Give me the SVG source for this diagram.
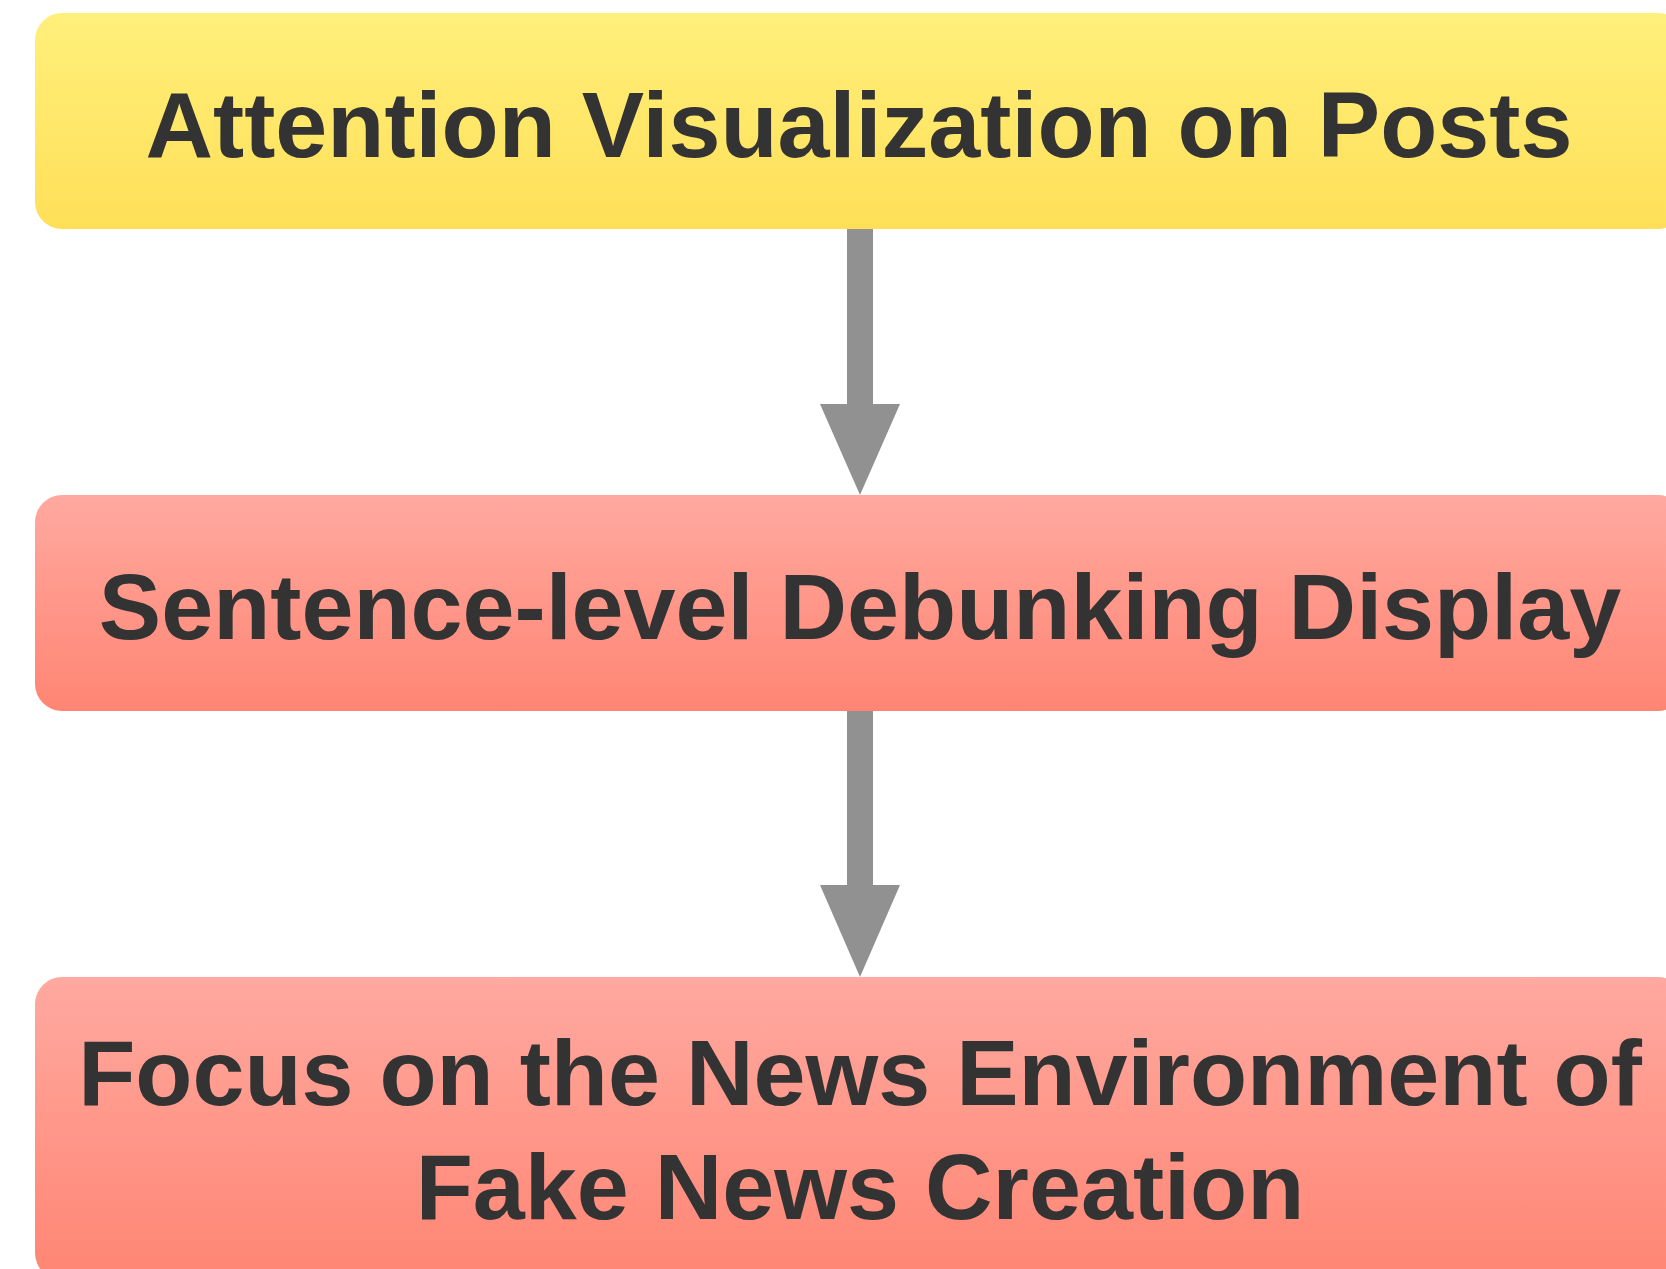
<svg xmlns="http://www.w3.org/2000/svg" width="1666" height="1269" viewBox="0 0 1666 1269">
  <defs>
    <linearGradient id="gYellow" x1="0" y1="0" x2="0" y2="1">
      <stop offset="0" stop-color="#FFF07B"/>
      <stop offset="1" stop-color="#FFDF58"/>
    </linearGradient>
    <linearGradient id="gRed" x1="0" y1="0" x2="0" y2="1">
      <stop offset="0" stop-color="#FFA9A0"/>
      <stop offset="1" stop-color="#FF8573"/>
    </linearGradient>
    <style>
      .lbl { font-family: "Liberation Sans", Arial, sans-serif; font-weight: bold; font-size: 93.5px; fill: #333333; text-anchor: middle; }
      .arrow { fill: #919191; }
    </style>
  </defs>
  <rect width="1666" height="1269" fill="#FFFFFF"/>
  <g id="node-attention">
    <rect x="35" y="13" width="1650" height="216" rx="27" ry="27" fill="url(#gYellow)"/>
    <text class="lbl" x="859" y="157">Attention Visualization on Posts</text>
  </g>
  <g id="node-sentence">
    <rect x="35" y="495" width="1650" height="216" rx="27" ry="27" fill="url(#gRed)"/>
    <text class="lbl" x="860" y="639">Sentence-level Debunking Display</text>
  </g>
  <g id="node-focus">
    <rect x="35" y="977" width="1650" height="303" rx="27" ry="27" fill="url(#gRed)"/>
    <text class="lbl" x="860" y="1105">Focus on the News Environment of</text>
    <text class="lbl" x="860" y="1219">Fake News Creation</text>
  </g>
  <g id="connectors">
    <polygon class="arrow" points="847,229 873,229 873,404 900,404 860,495 820,404 847,404"/>
    <polygon class="arrow" points="847,711 873,711 873,885 900,885 860,977 820,885 847,885"/>
  </g>
</svg>
